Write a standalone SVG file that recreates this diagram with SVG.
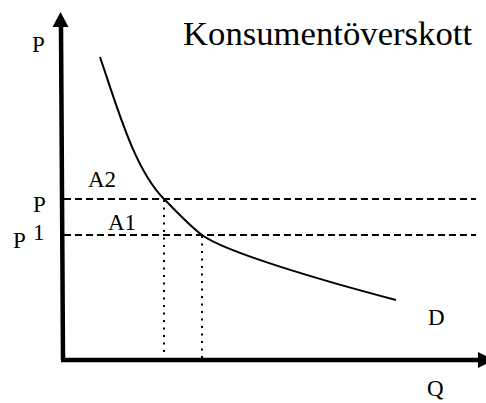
<svg xmlns="http://www.w3.org/2000/svg" width="486" height="403" viewBox="0 0 486 403">
<style>
  text { font-family: 'Liberation Serif', 'Times New Roman', serif; fill: #000; }
  .lbl { font-size: 23px; }
  .title { font-size: 34.7px; }
  .axis { stroke: #000; stroke-width: 4.5; fill: none; }
  .dash { stroke: #000; stroke-width: 1.8; stroke-dasharray: 7 4; fill: none; }
  .dot { stroke: #000; stroke-width: 2; stroke-dasharray: 2 5.5; fill: none; }
  .curve { stroke: #000; stroke-width: 2; fill: none; }
</style>
<rect width="486" height="403" fill="#fff"/>
<g id="connectors">
  <g id="axes">
    <line class="axis" x1="61" y1="26" x2="63" y2="360"/>
    <polygon points="60.5,12 52.5,27 68.5,27" fill="#000"/>
    <line class="axis" x1="61" y1="360" x2="480" y2="360"/>
    <polygon points="494,360 478,352 478,368" fill="#000"/>
  </g>
  <g id="price-lines">
    <line class="dash" x1="64" y1="199" x2="476" y2="199"/>
    <line class="dash" x1="64" y1="235" x2="476" y2="235"/>
  </g>
  <g id="quantity-lines">
    <line class="dot" x1="164" y1="200" x2="164" y2="354"/>
    <line class="dot" x1="202" y1="236" x2="202" y2="358"/>
  </g>
  <path id="demand-curve" class="curve" d="M100,57 C118,110 135,170 164,199 C178,213 190,226 202,235 C225,252 320,280 396,300"/>
</g>
<g id="title"><text class="title" x="183" y="45">Konsumentöverskott</text></g>
<g id="label-p-axis"><text class="lbl" x="32" y="52">P</text></g>
<g id="label-p"><text class="lbl" x="33" y="212">P</text></g>
<g id="label-p1"><text class="lbl" x="13" y="248">P</text><text class="lbl" x="33" y="240">1</text></g>
<g id="label-a2"><text class="lbl" x="88" y="187">A2</text></g>
<g id="label-a1"><text class="lbl" x="108" y="230">A1</text></g>
<g id="label-d"><text class="lbl" x="428" y="325">D</text></g>
<g id="label-q"><text class="lbl" x="427" y="396">Q</text></g>
</svg>
